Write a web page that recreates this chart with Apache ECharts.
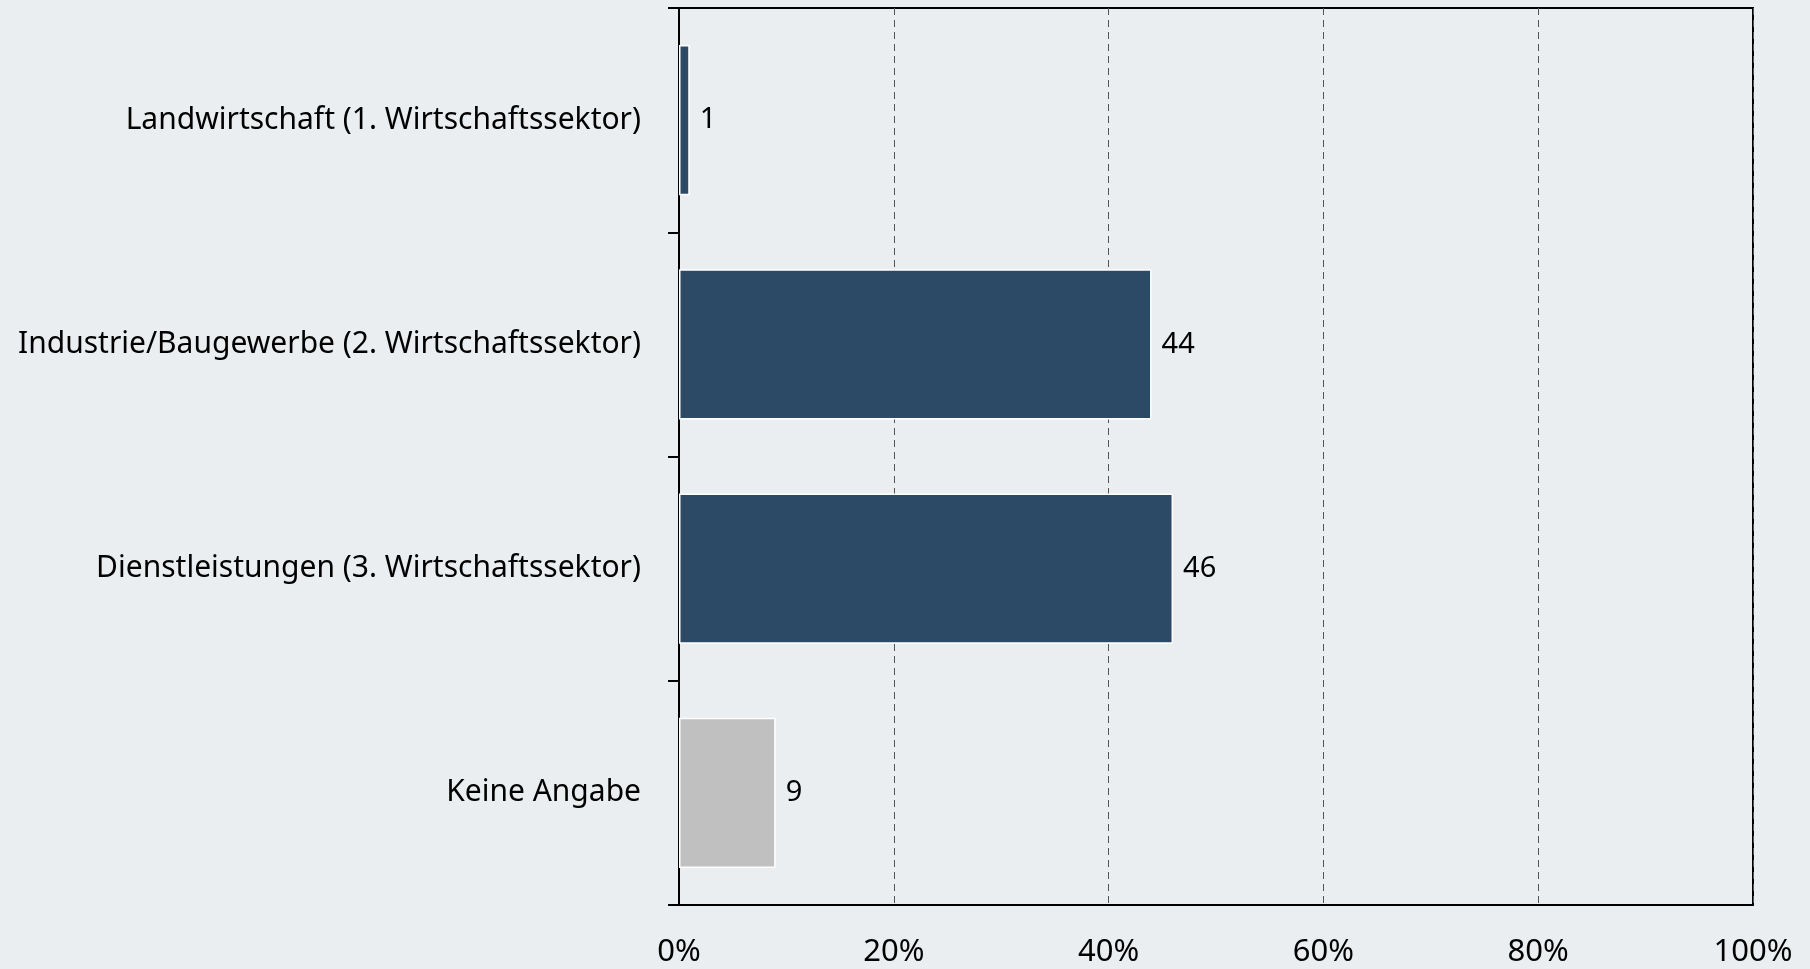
<!DOCTYPE html>
<html>
<head>
<meta charset="utf-8">
<script src="https://cdn.jsdelivr.net/npm/echarts@6/dist/echarts.min.js"></script>
<style>
  html, body { margin: 0; padding: 0; background: #eaeef0; }
  #chart { width: 1810px; height: 969px; }
</style>
</head>
<body>
<div id="chart"></div>
<script>
const categories = [
  'Landwirtschaft (1. Wirtschaftssektor)',
  'Industrie/Baugewerbe (2. Wirtschaftssektor)',
  'Dienstleistungen (3. Wirtschaftssektor)',
  'Keine Angabe'
]
const values = [1, 44, 46, 9]
const barColors = ['#2c4a66', '#2c4a66', '#2c4a66', '#c0c0c0']
const xTicks = [0, 20, 40, 60, 80, 100]

const chart = echarts.init(document.getElementById('chart'))

const option = {
  backgroundColor: '#eaeef0',
  textStyle: { fontFamily: 'Noto Sans' },
  grid: {
    left: 679,
    right: 57,
    top: 8,
    bottom: 64,
    show: true,
    borderColor: '#000',
    borderWidth: 2
  },
  xAxis: {
    type: 'value',
    min: 0,
    max: 100,
    interval: 20,
    axisLine: { show: true, lineStyle: { color: '#000', width: 2 } },
    axisTick: { show: false },
    axisLabel: {
      color: '#000',
      fontSize: 31,
      margin: 32,
      formatter: v => (xTicks.includes(v) ? v + '%' : '')
    },
    splitLine: {
      show: true,
      lineStyle: { color: '#555', type: [7, 5], width: 1 }
    }
  },
  yAxis: {
    type: 'category',
    data: categories,
    inverse: true,
    axisLine: { show: true, lineStyle: { color: '#000', width: 2 } },
    axisTick: { show: true, length: 11, lineStyle: { color: '#000', width: 2 } },
    axisLabel: { color: '#000', fontSize: 30, margin: 38, padding: [5, 0, 0, 0] },
    splitLine: { show: false }
  },
  series: [
    {
      type: 'bar',
      data: values.map((v, i) => ({ value: v, itemStyle: { color: barColors[i] } })),
      barCategoryGap: '33%',
      itemStyle: { borderColor: '#fff', borderWidth: 1.5 },
      label: {
        show: true,
        position: 'right',
        distance: 10,
        color: '#000',
        fontSize: 29,
        padding: [5, 0, 0, 0]
      }
    }
  ]
}

chart.setOption(option)

window.addEventListener('resize', () => {
  chart.resize()
})
</script>
</body>
</html>
